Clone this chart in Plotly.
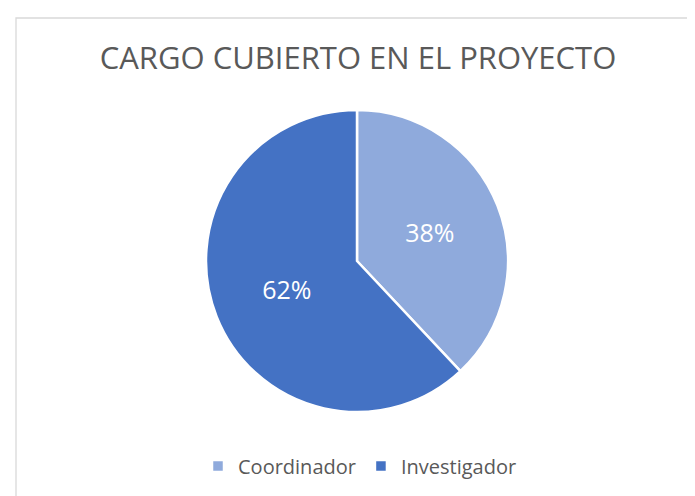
import plotly.graph_objects as go

categories = ["Coordinador", "Investigador"]
values = [38, 62]
colors = ["#8FAADC", "#4472C4"]
title_text = "CARGO CUBIERTO EN EL PROYECTO"

W, H = 695, 496

fig = go.Figure(go.Pie(
    labels=categories,
    values=values,
    sort=False,
    direction="clockwise",
    rotation=0,
    marker=dict(colors=colors, line=dict(color="white", width=2.5)),
    textinfo="percent",
    texttemplate="%{percent:.0%}",
    textposition="inside",
    insidetextfont=dict(color="white", size=25, family="Open Sans"),
    domain=dict(x=[198 / W, 500 / W], y=[(H - 404) / H, (H - 102) / H]),
    showlegend=True,
    hoverinfo="label+percent",
))

fig.update_layout(
    width=W, height=H,
    margin=dict(l=0, r=0, t=0, b=0),
    paper_bgcolor="white",
    plot_bgcolor="white",
    title=dict(text=title_text, x=350 / W, xanchor="center", y=1 - 50 / H, yanchor="middle",
               yref="container", xref="container",
               font=dict(family="Open Sans", size=31, color="#595959")),
    legend=dict(orientation="h", x=352 / W, xanchor="center", y=(H - 458) / H, yanchor="middle",
                font=dict(family="Open Sans", size=20, color="#595959"),
                itemwidth=30, traceorder="normal"),
    shapes=[dict(type="rect", xref="paper", yref="paper",
                 x0=8 / W, x1=1.05, y0=-0.05, y1=1 - 10 / H,
                 line=dict(color="#D9D9D9", width=1.3), fillcolor="rgba(0,0,0,0)", layer="below")],
)

fig.write_html("out.html")
